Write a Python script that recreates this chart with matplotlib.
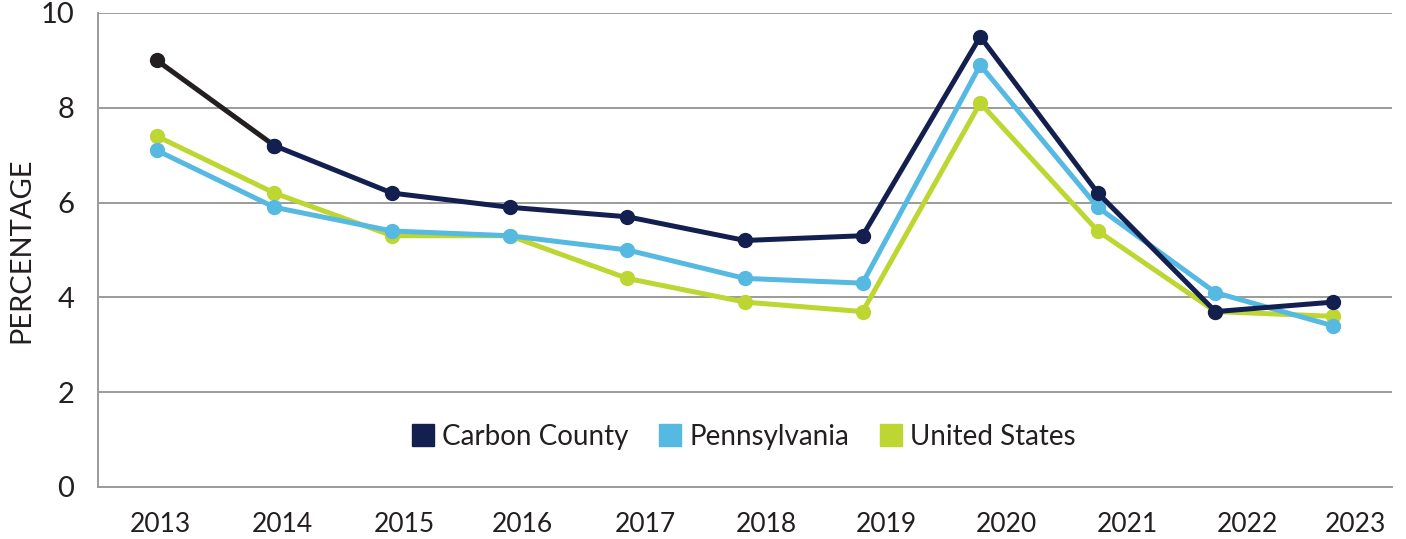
import numpy as np
import matplotlib.pyplot as plt
from matplotlib.lines import Line2D

years = ['2013', '2014', '2015', '2016', '2017', '2018', '2019', '2020', '2021', '2022', '2023']
carbon = [9.0, 7.2, 6.2, 5.9, 5.7, 5.2, 5.3, 9.5, 6.2, 3.7, 3.9]
penn = [7.1, 5.9, 5.4, 5.3, 5.0, 4.4, 4.3, 8.9, 5.9, 4.1, 3.4]
us = [7.4, 6.2, 5.3, 5.3, 4.4, 3.9, 3.7, 8.1, 5.4, 3.7, 3.6]

navy = '#13204f'
sky = '#56b9e1'
lime = '#bdd631'
first_seg = '#231f20'

plt.rcParams['font.family'] = ['Lato', 'DejaVu Sans']

fig = plt.figure(figsize=(14.06, 5.39), dpi=100)
ax = fig.add_axes([0.0697, 0.0965, 0.9203, 0.8795])

x = np.arange(len(years))
lw = 3.6
ms = 10

ax.plot(x, us, color=lime, lw=lw, marker='o', ms=ms, zorder=3)
ax.plot(x, penn, color=sky, lw=lw, marker='o', ms=ms, zorder=4)
ax.plot(x[1:], carbon[1:], color=navy, lw=lw, marker='o', ms=ms, zorder=5)
# the first segment of Carbon County is drawn in near-black in the original
ax.plot(x[:2], carbon[:2], color=first_seg, lw=lw, zorder=5)
ax.plot(x[:1], carbon[:1], color=first_seg, marker='o', ms=ms, lw=0, zorder=6)
ax.plot(x[1:2], carbon[1:2], color=navy, marker='o', ms=ms, lw=0, zorder=6)

ax.set_xlim(-0.5, 10.5)
ax.set_ylim(0, 10)
ax.set_yticks([0, 2, 4, 6, 8, 10])
ax.yaxis.grid(True, color='#9a9c9c', lw=1.4)
ax.set_axisbelow(True)

# year labels in the original drift slightly right of the points
shift = [0.03, 0.07, 0.10, 0.11, 0.15, 0.18, 0.20, 0.22, 0.25, 0.27, 0.19]
ax.set_xticks(x + np.array(shift))
ax.set_xticklabels(years)
ax.tick_params(axis='x', length=0, pad=18, labelsize=19, labelcolor='#231f20')
ax.tick_params(axis='y', length=0, pad=17, labelsize=21, labelcolor='#231f20')

for s in ['top', 'right']:
    ax.spines[s].set_visible(False)
for s in ['left', 'bottom']:
    ax.spines[s].set_color('#9a9c9c')
    ax.spines[s].set_linewidth(1.4)

ax.set_ylabel('PERCENTAGE', fontsize=21, color='#231f20')
ax.yaxis.set_label_coords(-0.049, 0.5)

handles = [Line2D([], [], color=c, marker='s', ms=16, lw=0) for c in (navy, sky, lime)]
ax.legend(handles, ['Carbon County', 'Pennsylvania', 'United States'],
          loc='center', bbox_to_anchor=(0.498, 0.105), ncol=3, frameon=False,
          fontsize=20, handletextpad=0.2, columnspacing=1.0, handlelength=1.0,
          labelcolor='#231f20')

fig.savefig('out.png', dpi=100, facecolor='white')
